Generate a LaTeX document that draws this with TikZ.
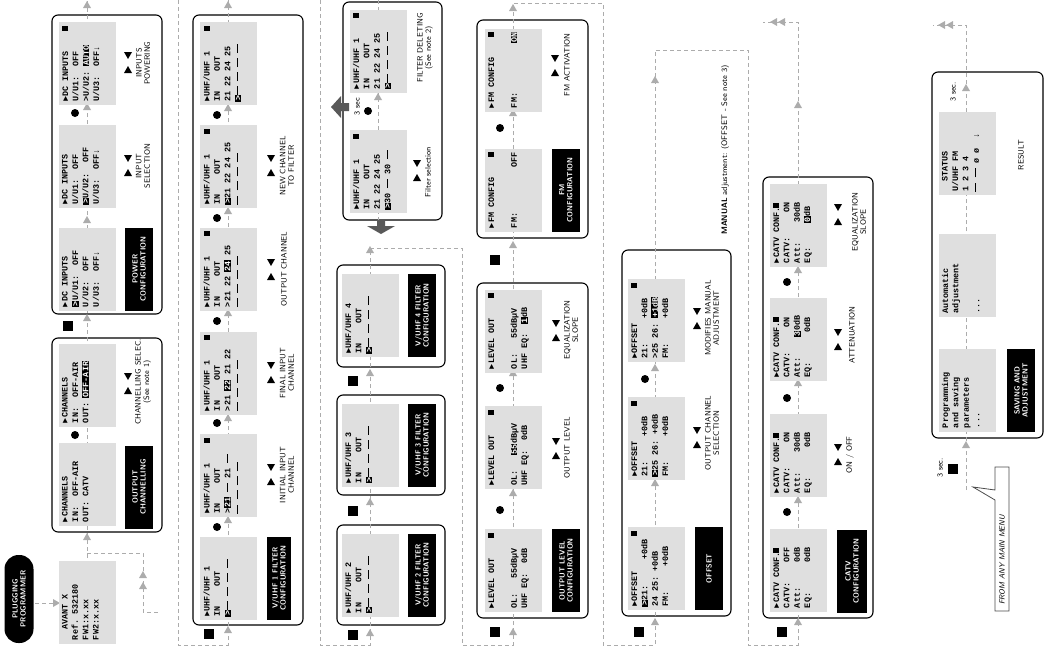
\documentclass[tikz,border=0pt]{standalone}
\usepackage{fontspec}
\setmainfont{Liberation Sans}
\newfontfamily\scrfont{Liberation Mono}
\begin{document}
\begin{tikzpicture}[x=1pt,y=-1pt,
  screen/.style={rotate=90,fill=gray!25,minimum width=83pt,minimum height=57pt,inner sep=0pt},
  lbl/.style={rotate=90,font=\sffamily\fontsize{7.8}{8.4}\selectfont,align=center,inner sep=0pt},
  blk/.style={rotate=90,fill=black,text=white,font=\sffamily\bfseries\fontsize{7.4}{8}\selectfont,align=center,minimum width=83pt,minimum height=28pt,inner sep=0pt},
  mbox/.style={draw=black,line width=1.1pt,rounded corners=6pt,fill=white},
  flow/.style={draw=gray!65,line width=0.8pt,dash pattern=on 4pt off 3pt}]
\useasboundingbox (0,0) rectangle (1053,653);
\newcommand\hl[1]{{\fboxsep=0.6pt\colorbox{black}{\textcolor{white}{#1}}}}
\newcommand\sq{\rule{5pt}{6pt}}
\newcommand\ds{\rule[2.6pt]{9pt}{1pt}}
\newcommand\scr[4]{\node[screen] (#1) at (#2,#3) {\parbox[c][50pt][t]{76pt}{\scrfont\bfseries\fontsize{8.4}{10.4}\selectfont #4}};}
\newcommand\up[2]{\fill[gray!65] (#1-4,#2+3) -- (#1+4,#2+3) -- (#1,#2-4) -- cycle;}
\newcommand\lf[2]{\fill[gray!65] (#1+7,#2-4) -- (#1+7,#2+4) -- (#1,#2) -- cycle;}
\newcommand\tri[2]{\fill (#1-4,#2-11) -- (#1+4,#2-11) -- (#1,#2-4) -- cycle;
  \fill (#1-4,#2+10) -- (#1+4,#2+10) -- (#1,#2+3) -- cycle;}
\newcommand\dotm[2]{\fill (#1,#2) circle (4pt);}
\newcommand\bsq[2]{\fill (#1-5,#2-5) rectangle (#1+5,#2+5);}
% ---------- boxes
\path[mbox] (52,15) rectangle (162,314);
\path[mbox] (52,338) rectangle (162,532);
\path[mbox] (193,15) rectangle (303,625);
\path[mbox] (343,2) rectangle (442,220);
\path[mbox] (337,265) rectangle (445,367);
\path[mbox] (337,395) rectangle (445,495);
\path[mbox] (337,525) rectangle (445,625);
\path[mbox] (477,20) rectangle (588,238);
\path[mbox] (477,283) rectangle (588,618);
\path[mbox] (622,250) rectangle (731,616);
\path[mbox] (763,177) rectangle (873,618);
\path[mbox] (932,72) rectangle (1043,438);
% ---------- flow lines
\draw[flow] (35,603) -- (58,603);
\fill[gray!65] (53,599) -- (53,607) -- (60,603) -- cycle;
\draw[flow] (87,565) -- (87,0);
\draw[flow] (87,553) -- (143,553) -- (143,612) -- (158,612);
\up{143}{575}\up{143}{586}
\draw[flow] (178,0) -- (178,645) -- (228,645) -- (228,0);
\draw[flow] (320,0) -- (320,645) -- (370,645) -- (370,248) -- (462,248) -- (462,645) -- (513,645) -- (513,3) -- (603,3) -- (603,645) -- (655,645) -- (655,50) -- (748,50) -- (748,645) -- (798,645) -- (798,22) -- (763,22);
\draw[flow] (378,0) -- (378,220);
\draw[flow] (966,490) -- (966,25) -- (933,25);
\lf{770}{22}\lf{778}{22}\lf{938}{25}\lf{946}{25}
\foreach \y in {5,107,220,318,537} {\up{87}{\y}}
\foreach \y in {5,108,211,313,418,520,630} {\up{228}{\y}}
\foreach \y in {633,502,373,250} {\up{370}{\y}}
\up{378}{97}
\foreach \y in {632,493,373,245,113,8} {\up{513}{\y}}
\foreach \y in {622,483,368,80} {\up{655}{\y}}
\foreach \y in {622,500,383,270,105} {\up{798}{\y}}
\up{966}{445}\up{966}{88}
% ---------- big grey arrows
\fill[gray!70!black] (331,107) -- (341,96) -- (341,103) -- (349,103) -- (349,111) -- (341,111) -- (341,118) -- cycle;
\fill[gray!70!black] (377,220) -- (385,220) -- (385,226) -- (395,226) -- (381,234) -- (367,226) -- (377,226) -- cycle;
% ---------- screens
\scr{d1}{87}{63.5}{\char"25BA DC INPUTS\hfill\sq\\~U/U1:~~OFF\\>U/U2:~\hl{AUTO}\\~U/U3:~~OFF\char"2193}
\scr{d2}{87}{166.5}{\char"25BA DC INPUTS\\~U/U1:~~OFF\\\hl{>}U/U2:~~OFF\\~U/U3:~~OFF\char"2193}
\scr{d3}{87}{269}{\char"25BA DC INPUTS\\\hl{>}U/U1:~~OFF\\~U/U2:~~OFF\\~U/U3:~~OFF\char"2193}
\scr{c1}{87}{385}{\char"25BA CHANNELS\\IN:~~OFF-AIR\\OUT:~\hl{OFF-AIR}}
\scr{c2}{87}{484}{\char"25BA CHANNELS\\IN:~~OFF-AIR\\OUT:~CATV}
\scr{av}{87}{602}{~~AVANT X\\~Ref.~532180\\~FW1:x.xx\\~FW2:x.xx}
\scr{u1}{228.5}{63.5}{\char"25BA UHF/UHF 1\hfill\sq\\~IN~~~~OUT\\~21~22~24~25\\\hl{>}\ds~\ds~\ds~\ds}
\scr{u2}{228.5}{166.5}{\char"25BA UHF/UHF 1\hfill\sq\\~IN~~~~OUT\\\hl{>}21~22~24~25\\~\ds~\ds~\ds~\ds}
\scr{u3}{228.5}{269}{\char"25BA UHF/UHF 1\hfill\sq\\~IN~~~~OUT\\>21~22~\hl{24}~25\\~\ds~\ds~\ds~\ds}
\scr{u4}{228.5}{373}{\char"25BA UHF/UHF 1\hfill\sq\\~IN~~~~OUT\\>21~\hl{22}~21~22\\~\ds~\ds~\ds~\ds}
\scr{u5}{228.5}{475.5}{\char"25BA UHF/UHF 1\hfill\sq\\~IN~~~~OUT\\>\hl{21}~\ds~21~\ds\\~\ds~\ds~\ds~\ds}
\scr{u6}{228.5}{578.5}{\char"25BA UHF/UHF 1\\~IN~~~~OUT\\\hl{>}\ds~\ds~\ds~\ds}
\scr{f1}{378}{51}{\char"25BA UHF/UHF 1\hfill\sq\\~IN~~~~OUT\\~21~22~24~25\\\hl{>}\ds~\ds~\ds~\ds}
\scr{f2}{378}{171.5}{\char"25BA UHF/UHF 1\hfill\sq\\~IN~~~~OUT\\~21~22~24~25\\\hl{>}30~\ds~30~\ds}
\scr{v4}{370}{315.5}{\char"25BA UHF/UHF 4\\~IN~~~~OUT\\\hl{>}\ds~\ds~\ds~\ds}
\scr{v3}{370}{445}{\char"25BA UHF/UHF 3\\~IN~~~~OUT\\\hl{>}\ds~\ds~\ds~\ds}
\scr{v2}{370}{575}{\char"25BA UHF/UHF 2\\~IN~~~~OUT\\\hl{>}\ds~\ds~\ds~\ds}
\scr{m1}{513}{70}{\char"25BA FM CONFIG\hfill\sq\\[2pt]\\FM:\hfill\hl{ON}}
\scr{m2}{513}{190}{\char"25BA FM CONFIG\hfill\sq\\[2pt]\\FM:\hfill OFF}
\scr{l1}{513}{331}{\char"25BA LEVEL OUT\hfill\sq\\[2pt]\\OL:~~~55dBµV\\UHF EQ:~~\hl{1}dB}
\scr{l2}{513}{447.5}{\char"25BA LEVEL OUT\hfill\sq\\[2pt]\\OL:~~~\hl{55}dBµV\\UHF EQ:~~0dB}
\scr{l3}{513}{570.5}{\char"25BA LEVEL OUT\hfill\sq\\[2pt]\\OL:~~~55dBµV\\UHF EQ:~~0dB}
\scr{o1}{656}{320.5}{\char"25BA OFFSET\hfill\sq\\~21:~~~~~+0dB\\>25 26:~\hl{+1dB}\\~FM:~~~~~+0dB}
\scr{o2}{656}{438.5}{\char"25BA OFFSET\hfill\sq\\~21:~~~~~+0dB\\\hl{>}25 26:~+0dB\\~FM:~~~~~+0dB}
\scr{o3}{656}{568.5}{\char"25BA OFFSET\hfill\sq\\\hl{>}21:~~~~~+0dB\\~24 25:~+0dB\\~FM:~~~~~+0dB}
\scr{k1}{798}{225}{\char"25BA CATV CONF.\sq\\CATV:~~~~~ON\\Att:~~~~30dB\\EQ:~~~~~\hl{0}dB}
\scr{k2}{798}{339.5}{\char"25BA CATV CONF.\sq\\CATV:~~~~~ON\\Att:~~~~\hl{3}0dB\\EQ:~~~~~~0dB}
\scr{k3}{798}{455}{\char"25BA CATV CONF.\sq\\CATV:~~~~~ON\\Att:~~~~30dB\\EQ:~~~~~~0dB}
\scr{k4}{798}{570}{\char"25BA CATV CONF.\sq\\CATV:~~~~OFF\\Att:~~~~~0dB\\EQ:~~~~~~0dB}
\scr{r1}{967}{153.5}{~~STATUS\\~~U/UHF FM\\1 2 3 4\\\ds~\ds~ø~ø~~\char"2193}
\scr{r2}{967}{275.5}{Automatic\\adjustment\\[10.4pt]~~~~~~~~...}
\scr{r3}{967}{390}{Programming\\and saving\\parameters\\~~~~~~~~...}
% ---------- dots and squares
\dotm{75}{113}\dotm{75}{435}
\foreach \y in {115,218,321,423,527} {\dotm{217}{\y}}
\dotm{368}{111}\dotm{500}{128}\dotm{500}{388}\dotm{500}{510}
\dotm{645}{379}\dotm{787}{282}\dotm{787}{398}\dotm{787}{512}
\bsq{68}{326}\bsq{209}{634}\bsq{353}{635}\bsq{353}{511}\bsq{353}{381}
\bsq{495}{632}\bsq{495}{260}\bsq{639}{632}\bsq{782}{632}\bsq{953}{469}
% ---------- black titles
\node[blk] (t1) at (139,269) {POWER\\CONFIGURATION};
\node[blk] (t2) at (139,487) {OUTPUT\\CHANNELLING};
\node[blk,minimum height=24pt] (t3) at (279,578) {V/UHF 1 FILTER\\CONFIGURATION};
\node[blk] (t4) at (422,575) {V/UHF 2 FILTER\\CONFIGURATION};
\node[blk] (t5) at (422,445) {V/UHF 3 FILTER\\CONFIGURATION};
\node[blk] (t6) at (422,315.5) {V/UHF 4 FILTER\\CONFIGURATION};
\node[blk] (t7) at (566,190) {FM\\CONFIGURATION};
\node[blk] (t8) at (566,570.5) {OUTPUT LEVEL\\CONFIGURATION};
\node[blk] (t9) at (709,568.5) {OFFSET};
\node[blk,minimum height=30pt] (t10) at (852,571) {CATV\\CONFIGURATION};
\node[blk] (t11) at (1021,390.5) {SAVING AND\\ADJUSTMENT};
\node[rotate=90,fill=black,text=white,rounded corners=14pt,minimum width=88pt,minimum height=29pt,align=center,inner sep=0pt,font=\sffamily\bfseries\fontsize{7.4}{8}\selectfont] (pp) at (19,599) {PLUGGING\\PROGRAMMER};
% ---------- labels
\node[lbl] (a1) at (143,63) {INPUTS\\POWERING}; \tri{128}{63}
\node[lbl] (a2) at (143,166) {INPUT\\SELECTION}; \tri{128}{166}
\node[lbl] (a3) at (143,382) {CHANNELLING SELEC.\\(See note 1)}; \tri{128}{384}
\node[lbl] (a4) at (287,166) {NEW CHANNEL\\TO FILTER}; \tri{271}{166}
\node[lbl] (a5) at (284,269) {OUTPUT CHANNEL}; \tri{271}{270}
\node[lbl] (a6) at (287,373) {FINAL INPUT\\CHANNEL}; \tri{271}{373}
\node[lbl] (a7) at (287,475) {INITIAL INPUT\\CHANNEL}; \tri{271}{475}
\node[lbl] (a8) at (425,48) {FILTER DELETING\\(See note 2)};
\node[lbl] (a9) at (428,172) {Filter selection}; \tri{417}{171}
\node[lbl] (a10) at (567,65) {FM ACTIVATION}; \tri{555}{66}
\node[lbl] (a11) at (571,330) {EQUALIZATION\\SLOPE}; \tri{556}{331}
\node[lbl] (a12) at (567,448) {OUTPUT LEVEL}; \tri{556}{449}
\node[lbl] (a13) at (712,318) {MODIFIES MANUAL\\ADJUSTMENT}; \tri{697}{319}
\node[lbl] (a14) at (712,433) {OUTPUT CHANNEL\\SELECTION}; \tri{697}{438}
\node[lbl] (a15) at (859,222) {EQUALIZATION\\SLOPE}; \tri{838}{215}
\node[lbl] (a16) at (852,335) {ATTENUATION}; \tri{838}{340}
\node[lbl] (a17) at (850,455) {ON / OFF}; \tri{838}{455}
\node[lbl] (a18) at (1021,155) {RESULT};
\node[lbl,font=\sffamily\fontsize{8}{8.5}\selectfont] (a19) at (725,150) {\textbf{MANUAL} adjustment: (OFFSET - See note 3)};
\node[lbl] (s1) at (357,107) {3 sec};
\node[lbl] (s2) at (953,92) {3 sec.};
\node[lbl] (s3) at (940,468) {3 sec.};
% ---------- callout
\draw[gray!60!black,line width=0.8pt,fill=white] (995,467) -- (1009,467) -- (1009,611) -- (995,611) -- (995,500) -- (973,487) -- (995,490) -- cycle;
\node[lbl,font=\sffamily\itshape\fontsize{7.5}{8}\selectfont] (fm) at (1002,560) {FROM ANY MAIN MENU};
\end{tikzpicture}
\end{document}
